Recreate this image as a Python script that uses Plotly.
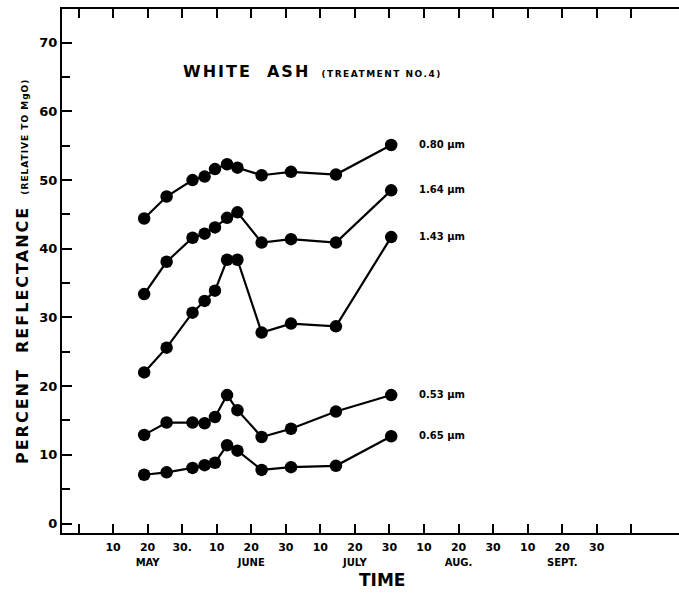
import plotly.graph_objects as go

# --- data (x = days after April 30, each tick = 10 days) ---
dates = [19, 25.5, 33, 36.5, 39.5, 43, 46, 53, 61.5, 74.5, 90.5]
r080 = [44.4, 47.6, 50.0, 50.5, 51.6, 52.3, 51.8, 50.7, 51.2, 50.8, 55.1]
r164 = [33.4, 38.1, 41.6, 42.2, 43.1, 44.5, 45.3, 40.9, 41.4, 40.9, 48.5]
r143 = [22.0, 25.6, 30.7, 32.4, 33.9, 38.4, 38.4, 27.8, 29.1, 28.7, 41.7]
r053 = [12.9, 14.7, 14.7, 14.6, 15.5, 18.7, 16.5, 12.6, 13.8, 16.3, 18.7]
r065 = [7.1, 7.45, 8.1, 8.5, 8.85, 11.4, 10.6, 7.8, 8.2, 8.4, 12.7]
series_names = ["0.80 µm", "1.64 µm", "1.43 µm", "0.53 µm", "0.65 µm"]
series_vals = [r080, r164, r143, r053, r065]

x_tickvals = list(range(0, 170, 10))
day_labels = ["", "10", "20", "30.", "10", "20", "30", "10", "20", "30",
              "10", "20", "30", "10", "20", "30", ""]
month_labels = {2: "MAY", 5: "JUNE", 8: "JULY", 11: "AUG.", 14: "SEPT."}
y_tickvals = list(range(0, 80, 10))

FONT = "DejaVu Sans"
ticktext = []
for i, d in enumerate(day_labels):
    if i in month_labels:
        ticktext.append(f"{d}<br><span style='font-size:10px'>{month_labels[i]}</span>")
    else:
        ticktext.append(d)

fig = go.Figure()
for name, vals in zip(series_names, series_vals):
    fig.add_trace(go.Scatter(
        x=dates, y=vals, mode="lines+markers", name=name, showlegend=False,
        line=dict(color="black", width=2.2),
        marker=dict(size=12.5, color="black"),
    ))
    fig.add_annotation(
        x=dates[-1], y=vals[-1], text=name, xanchor="left", yanchor="middle",
        xshift=26, yshift=1, showarrow=False,
        font=dict(family=FONT, size=10, weight="bold", color="black"),
    )

fig.add_annotation(
    xref="paper", yref="paper", x=0.193, y=0.88, xanchor="left", yanchor="middle",
    showarrow=False,
    text="<span style='letter-spacing:2px'>WHITE  ASH</span>  "
         "<span style='font-size:9px;letter-spacing:1.5px'>(TREATMENT NO.4)</span>",
    font=dict(family=FONT, size=16, weight="bold", color="black"),
)
fig.add_annotation(
    xref="paper", yref="paper", x=-0.0648, y=0.498, xanchor="center", yanchor="middle",
    textangle=-90, showarrow=False,
    text="<span style='letter-spacing:2px'>PERCENT  REFLECTANCE</span>  "
         "<span style='font-size:9px;letter-spacing:1px'>(RELATIVE TO MgO)</span>",
    font=dict(family=FONT, size=16, weight="bold", color="black"),
)
fig.add_annotation(
    xref="paper", yref="paper", x=0.5186, y=-0.0897, xanchor="center", yanchor="middle",
    showarrow=False, text="TIME",
    font=dict(family=FONT, size=17, weight="bold", color="black"),
)

fig.update_layout(
    width=679, height=594,
    margin=dict(l=62, r=0, t=9, b=61),
    paper_bgcolor="white", plot_bgcolor="white",
    xaxis=dict(
        range=[-4.78, 173.8], showgrid=False, zeroline=False,
        showline=True, linecolor="black", linewidth=2, mirror="ticks",
        ticks="inside", ticklen=9, tickwidth=2, tickcolor="black",
        tickvals=x_tickvals, ticktext=ticktext, ticklabelstandoff=3,
        tickfont=dict(family=FONT, size=11, weight="bold", color="black"),
    ),
    yaxis=dict(
        range=[-1.38, 74.9], showgrid=False, zeroline=False,
        showline=True, linecolor="black", linewidth=2,
        ticks="inside", ticklen=10, tickwidth=2, tickcolor="black",
        tickvals=y_tickvals,
        minor=dict(dtick=5, tick0=0, ticks="inside", ticklen=8, tickwidth=2, tickcolor="black"),
        tickfont=dict(family=FONT, size=13, weight="bold", color="black"),
    ),
)

fig.write_html("out.html", config={"displayModeBar": False},
               post_script="document.body.style.margin='0';document.body.style.overflow='hidden';")
